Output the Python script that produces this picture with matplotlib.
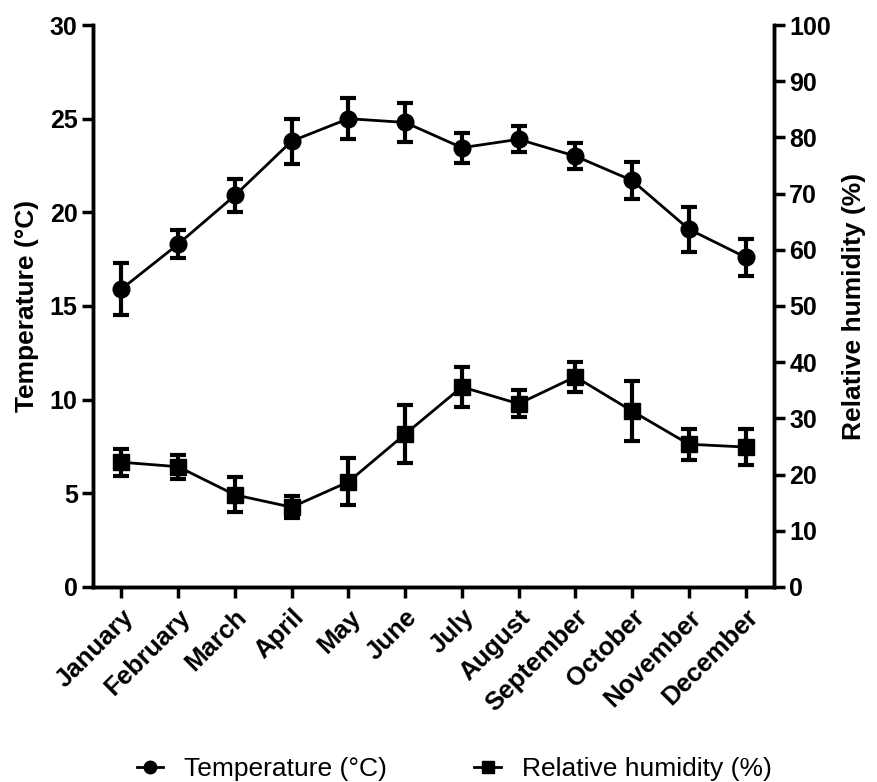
import numpy as np
import matplotlib.pyplot as plt
from matplotlib.lines import Line2D

plt.rcParams['font.family'] = ['Liberation Sans', 'DejaVu Sans']

months = ['January', 'February', 'March', 'April', 'May', 'June', 'July',
          'August', 'September', 'October', 'November', 'December']
temp = [15.9, 18.3, 20.9, 23.8, 25.0, 24.8, 23.45, 23.9, 23.0, 21.7, 19.1, 17.6]
temp_err = [1.4, 0.75, 0.9, 1.2, 1.1, 1.05, 0.8, 0.7, 0.7, 1.0, 1.2, 1.0]
hum = [22.2, 21.4, 16.4, 14.2, 18.7, 27.2, 35.6, 32.6, 37.4, 31.3, 25.4, 24.9]
hum_err = [2.4, 2.1, 3.1, 2.0, 4.2, 5.1, 3.6, 2.4, 2.7, 5.3, 2.8, 3.2]

x = np.arange(len(months))

fig = plt.figure(figsize=(8.77, 7.82), dpi=100)
ax = fig.add_axes([0.106, 0.2494, 0.7766, 0.7186])
ax2 = ax.twinx()

# temperature on left axis, humidity on right axis
ax.errorbar(x, temp, yerr=temp_err, fmt='none', ecolor='black',
            elinewidth=3, capsize=6, capthick=3)
ax.plot(x, temp, color='black', marker='o', markersize=12, linewidth=2)
ax2.errorbar(x, hum, yerr=hum_err, fmt='none', ecolor='black',
             elinewidth=3, capsize=6, capthick=3)
ax2.plot(x, hum, color='black', marker='s', markersize=11.5, linewidth=2)

ax.set_xlim(-0.5, 11.5)
ax.set_ylim(0, 30)
ax2.set_ylim(0, 100)
ax.set_yticks(range(0, 31, 5))
ax2.set_yticks(range(0, 101, 10))
ax.set_xticks(x)
ax.set_xticklabels(months, rotation=45, ha='right', rotation_mode='anchor',
                   fontsize=18.5, fontweight='bold')

for a in (ax, ax2):
    for s in a.spines.values():
        s.set_linewidth(2.5)
    a.spines['top'].set_visible(False)
    a.tick_params(axis='y', direction='out', length=8, width=2.5, labelsize=18, pad=3)
    for lbl in a.get_yticklabels():
        lbl.set_fontweight('bold')
ax.tick_params(axis='x', direction='out', length=8, width=2.5, labelsize=18.5, pad=5)

ax.set_ylabel('Temperature (°C)', fontsize=19, fontweight='bold', labelpad=8)
ax2.set_ylabel('Relative humidity (%)', fontsize=19, fontweight='bold', labelpad=8)

handles = [Line2D([], [], color='black', marker='o', markersize=9, linewidth=2),
           Line2D([], [], color='black', marker='s', markersize=9, linewidth=2)]
labels = ['Temperature (°C)', 'Relative humidity (%)']
fig.legend(handles, labels, loc='center', bbox_to_anchor=(0.518, 0.016), ncol=2,
           frameon=False, fontsize=19, handlelength=1.0, columnspacing=3.3,
           handletextpad=0.8, borderaxespad=0)

fig.savefig('out.png', dpi=100)
